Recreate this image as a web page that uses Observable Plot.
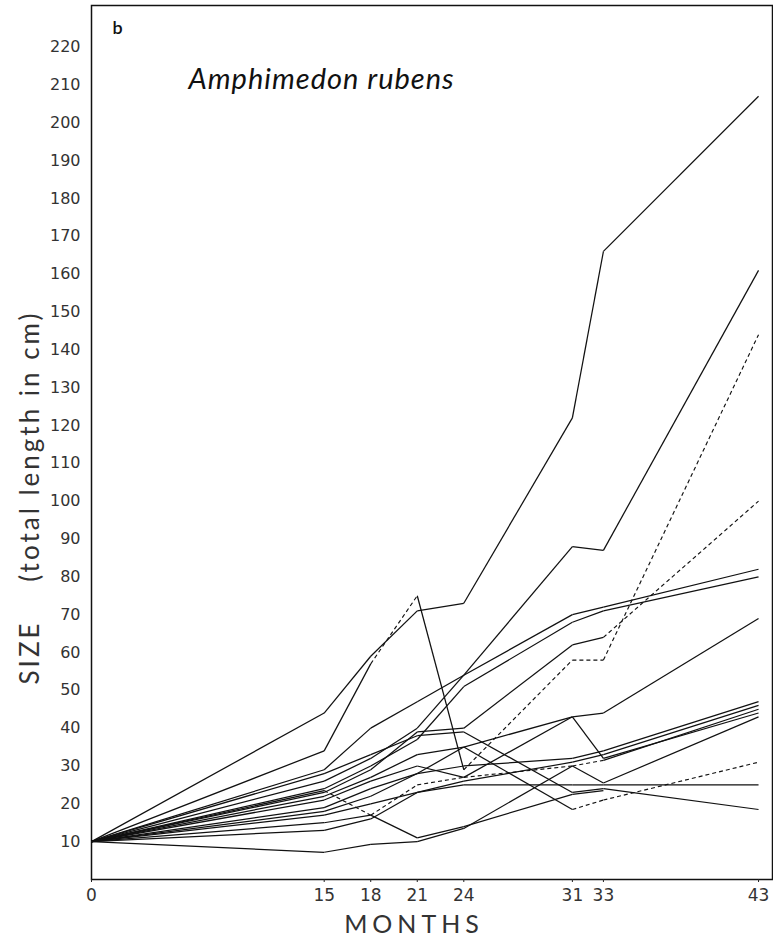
<!DOCTYPE html>
<html>
<head>
<meta charset="utf-8">
<script src="https://cdn.jsdelivr.net/npm/d3@7"></script>
<script src="https://cdn.jsdelivr.net/npm/@observablehq/plot@0.6"></script>
<style>
  html, body { margin: 0; padding: 0; background: #fff; }
  #chart { width: 773px; height: 940px; }
  svg { font-family: "DejaVu Sans", sans-serif; }
</style>
</head>
<body>
<div id="chart"></div>
<script>
// Months at which sponges were measured
const months = [0, 15, 18, 21, 24, 31, 33, 43];
const xTickValues = [0, 15, 18, 21, 24, 31, 33, 43];
const yTickValues = [10, 20, 30, 40, 50, 60, 70, 80, 90, 100, 110, 120, 130, 140, 150, 160, 170, 180, 190, 200, 210, 220];

// Size (total length in cm) of each individual at each month (null = not measured)
const sponge01 = [10, 44, 59, 71, 73, 122, 166, 207];
const sponge02 = [10, 34, 57, 75, 29, 58, 58, 144];
const sponge03 = [10, 29, 40, 47, 54, 88, 87, 161];
const sponge04 = [10, 26, 32, 40, 54, 70, 72, 82];
const sponge05 = [10, 24, 30, 37, 51, 68, 71, 80];
const sponge06 = [10, 23, 29, 39, 40, 62, 64, 100];
const sponge07 = [10, 22, 27, 33, 35, 43, 44, 69];
const sponge08 = [10, 21, 26, 30, 27, 43, 32, 44];
const sponge09 = [10, 19, 24, 28, 30, 32, 34, 47];
const sponge10 = [10, 18, 22, 28, 35, 18.5, 21, 31];
const sponge11 = [10, 17, 20, 23, 25, 25, 25, 25];
const sponge12 = [10, 28, 33, 38, 39, 23, 24, 18.5];
const sponge13 = [10, 23.5, 17, 25, 27, 30, 31.5, 45];
const sponge14 = [10, 7.2, 9.3, 10, 13.5, 30, 25.5, 43];
const sponge15 = [10, 15, 17, 11, 14, 22.5, 23.5, null];
const sponge16 = [10, 13, 16, 23, 26, 31, 33, 46];

// Segments (index of starting month) drawn dashed for each individual
const dashed02 = [2, 4, 5, 6];
const dashed06 = [6];
const dashed10 = [5, 6];
const dashed13 = [1, 2, 3, 4, 5];

const titleText = "Amphimedon rubens";
const yLabelText = "SIZE    (total length in cm)";
const xLabelText = "MONTHS";

const allSeries = [
  [sponge01, []], [sponge02, dashed02], [sponge03, []], [sponge04, []],
  [sponge05, []], [sponge06, dashed06], [sponge07, []], [sponge08, []],
  [sponge09, []], [sponge10, dashed10], [sponge11, []], [sponge12, []],
  [sponge13, dashed13], [sponge14, []], [sponge15, []], [sponge16, []]
];

const segments = [];
allSeries.forEach(([vals, dashIdx], s) => {
  for (let i = 0; i < vals.length - 1; i++) {
    if (vals[i] == null || vals[i + 1] == null) continue;
    segments.push({
      id: s,
      x1: months[i], y1: vals[i],
      x2: months[i + 1], y2: vals[i + 1],
      dashed: dashIdx.includes(i)
    });
  }
});

const chart = Plot.plot({
  width: 773,
  height: 940,
  marginLeft: 91,
  marginRight: 1,
  marginTop: 5,
  marginBottom: 61,
  style: { fontFamily: "'DejaVu Sans', sans-serif", color: "#222", background: "#fff" },
  x: { domain: [0, 43.9] },
  y: { domain: [0, 231] },
  marks: [
    Plot.frame({ stroke: "#111", strokeWidth: 1.5 }),
    Plot.axisX({ ticks: xTickValues, tickSize: 3, tickPadding: 6, fontSize: 17, fill: "#333", label: null, tickFormat: d => String(d) }),
    Plot.axisY({ ticks: yTickValues, tickSize: 0, tickPadding: 11, fontSize: 16, fill: "#333", label: null, tickFormat: d => String(d) }),
    Plot.link(segments.filter(d => !d.dashed), {
      x1: "x1", y1: "y1", x2: "x2", y2: "y2",
      stroke: "#111", strokeWidth: 1.25
    }),
    Plot.link(segments.filter(d => d.dashed), {
      x1: "x1", y1: "y1", x2: "x2", y2: "y2",
      stroke: "#111", strokeWidth: 1.15, strokeDasharray: "4,3"
    }),
    Plot.text(["b"], { frameAnchor: "top-left", dx: 21, dy: 16, fontSize: 18, fontWeight: 600, fill: "#111", textAnchor: "start", fontFamily: "Lato, sans-serif" }),
    Plot.text([titleText], { frameAnchor: "top-left", dx: 97, dy: 63, fontSize: 29, fontStyle: "italic", fill: "#111", textAnchor: "start", fontFamily: "Lato, sans-serif" }),
    Plot.text([yLabelText], { frameAnchor: "left", dx: -61, dy: 55, rotate: -90, textAnchor: "middle", fontSize: 26, fill: "#333", fontFamily: "Lato, sans-serif" }),
    Plot.text([xLabelText], { frameAnchor: "bottom", dx: -18, dy: 53, textAnchor: "middle", fontSize: 25, fill: "#333", fontFamily: "Lato, sans-serif" })
  ]
});

// letter spacing for the labels (not a Plot text option)
const spacing = new Map([[titleText, "1px"], [yLabelText, "3px"], [xLabelText, "5px"]]);
chart.querySelectorAll("text").forEach(t => {
  const s = spacing.get(t.textContent);
  if (s) t.style.letterSpacing = s;
});

document.getElementById("chart").appendChild(chart);
</script>
</body>
</html>
